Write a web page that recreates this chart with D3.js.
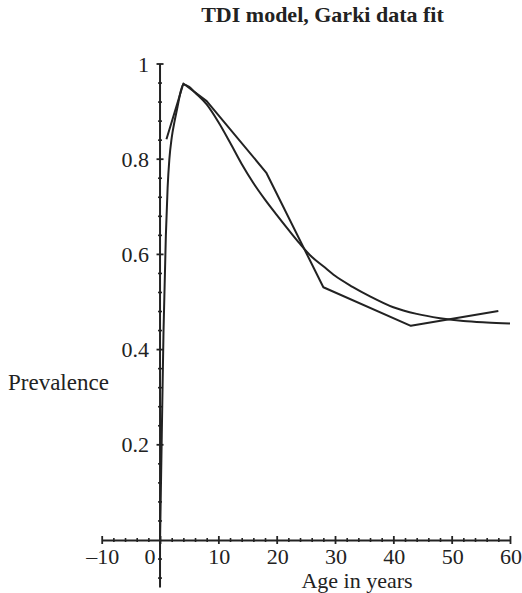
<!DOCTYPE html>
<html>
<head>
<meta charset="utf-8">
<script src="https://cdn.jsdelivr.net/npm/d3@7"></script>
<style>
  body { margin: 0; background: #fff; }
  text { font-family: "Liberation Serif", "DejaVu Serif", serif; fill: #222; }
</style>
</head>
<body>
<div id="chart"></div>
<script>
// Garki data (age group midpoints) and TDI model fit
var dataAges = [1.1, 4, 8, 18.2, 28, 43, 58];
var dataPrev = [0.842, 0.959, 0.922, 0.772, 0.531, 0.450, 0.481];

var modelAges = [0, 0.3, 0.6, 1.0, 1.3, 1.6, 2.0, 2.5, 3.0, 3.5, 4.0, 5, 6, 8, 10, 12, 14, 16, 18, 20, 22, 24, 26, 28, 30, 33, 36, 40, 44, 48, 52, 56, 60];
var modelPrev = [0, 0.22, 0.44, 0.64, 0.74, 0.80, 0.845, 0.88, 0.91, 0.94, 0.957, 0.952, 0.94, 0.915, 0.878, 0.835, 0.79, 0.75, 0.715, 0.683, 0.652, 0.622, 0.595, 0.575, 0.555, 0.532, 0.512, 0.489, 0.475, 0.466, 0.460, 0.457, 0.455];

var xMajor = [-10, 0, 10, 20, 30, 40, 50, 60];
var xLabels = ["\u201310", "0", "10", "20", "30", "40", "50", "60"];
var yMajor = [0.2, 0.4, 0.6, 0.8, 1];
var yLabels = ["0.2", "0.4", "0.6", "0.8", "1"];

var svgWidth = 522;
var svgHeight = 593;

var svg = d3.select("#chart")
    .append("svg")
    .attr("width", svgWidth)
    .attr("height", svgHeight);

var x = d3.scaleLinear().domain([-10, 60]).range([101.7, 510]);
var y = d3.scaleLinear().domain([0, 1]).range([540, 64]);

var ink = "#222";

// minor tick positions
var xMinor = d3.range(-10, 60.01, 2).filter(v => xMajor.indexOf(v) < 0);
var yMinor = d3.range(-0.08, 1.001, 0.04)
    .map(v => Math.round(v * 100) / 100)
    .filter(v => v !== 0 && yMajor.indexOf(v) < 0);

// x axis
var xAxisG = svg.append("g")
    .attr("transform", `translate(0,${y(0)})`);

xAxisG.append("g")
    .call(d3.axisBottom(x).tickValues(xMinor).tickSize(0).tickFormat(""))
    .call(g => g.selectAll(".tick line").attr("y1", -2).attr("y2", 2).attr("stroke", ink).attr("stroke-width", 1.6));

xAxisG.append("g")
    .call(d3.axisBottom(x).tickValues(xMajor).tickSize(0).tickFormat(""))
    .call(g => g.select(".domain").attr("stroke", ink).attr("stroke-width", 2))
    .call(g => g.selectAll(".tick line").attr("y1", -4).attr("y2", 4).attr("stroke", ink).attr("stroke-width", 1.8));

svg.append("g")
    .selectAll("text")
    .data(xMajor)
    .enter()
    .append("text")
    .attr("x", d => d === 0 ? x(d) - 10 : x(d) + 1)
    .attr("y", y(0) + 24)
    .attr("text-anchor", "middle")
    .attr("font-size", "22px")
    .text((d, i) => xLabels[i]);

// y axis (runs a little below the x axis)
var yAxisG = svg.append("g")
    .attr("transform", `translate(${x(0)},0)`);

yAxisG.append("line")
    .attr("x1", 0).attr("x2", 0)
    .attr("y1", y(-0.1)).attr("y2", y(1))
    .attr("stroke", ink)
    .attr("stroke-width", 2);

yAxisG.selectAll(".ymin")
    .data(yMinor)
    .enter()
    .append("line")
    .attr("x1", -2).attr("x2", 2)
    .attr("y1", d => y(d)).attr("y2", d => y(d))
    .attr("stroke", ink)
    .attr("stroke-width", 1.6);

yAxisG.selectAll(".ymaj")
    .data(yMajor)
    .enter()
    .append("line")
    .attr("x1", -3.5).attr("x2", 3.5)
    .attr("y1", d => y(d)).attr("y2", d => y(d))
    .attr("stroke", ink)
    .attr("stroke-width", 1.8);

svg.append("g")
    .selectAll("text")
    .data(yMajor)
    .enter()
    .append("text")
    .attr("x", x(0) - 11)
    .attr("y", d => y(d) + 7.5)
    .attr("text-anchor", "end")
    .attr("font-size", "22px")
    .text((d, i) => yLabels[i]);

// curves
var line = d3.line()
    .x(d => x(d[0]))
    .y(d => y(d[1]));

svg.append("path")
    .datum(modelAges.map((a, i) => [a, modelPrev[i]]))
    .attr("fill", "none")
    .attr("stroke", ink)
    .attr("stroke-width", 2)
    .attr("d", line.curve(d3.curveMonotoneX));

svg.append("path")
    .datum(dataAges.map((a, i) => [a, dataPrev[i]]))
    .attr("fill", "none")
    .attr("stroke", ink)
    .attr("stroke-width", 2)
    .attr("stroke-linejoin", "round")
    .attr("d", line.curve(d3.curveLinear));

// titles
svg.append("text")
    .attr("x", 322.5)
    .attr("y", 22)
    .attr("text-anchor", "middle")
    .attr("font-size", "22px")
    .attr("font-weight", "bold")
    .text("TDI model, Garki data fit");

svg.append("text")
    .attr("x", 8)
    .attr("y", 390)
    .attr("font-size", "23px")
    .text("Prevalence");

svg.append("text")
    .attr("x", 357)
    .attr("y", 588)
    .attr("text-anchor", "middle")
    .attr("font-size", "22px")
    .text("Age in years");
</script>
</body>
</html>
